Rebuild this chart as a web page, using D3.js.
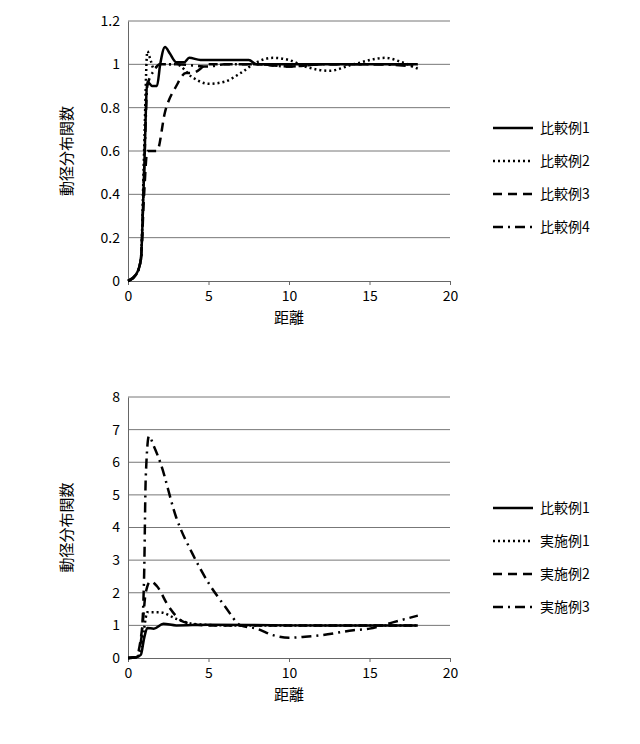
<!DOCTYPE html><html><head><meta charset="utf-8"><script src="https://cdn.jsdelivr.net/npm/d3@7"></script>
<style>body{margin:0;background:#fff}text{font-family:"Noto Sans CJK JP","Liberation Sans",sans-serif}</style></head><body><svg id="c" width="640" height="744"></svg><script>
const topNames=["比較例1","比較例2","比較例3","比較例4"];
const botNames=["比較例1","実施例1","実施例2","実施例3"];
const xTicks=[0,5,10,15,20];
const topYTicks=[0,0.2,0.4,0.6,0.8,1,1.2];
const botYTicks=[0,1,2,3,4,5,6,7,8];
const top1=[[0,0],[0.5,0.03],[0.8,0.1],[1.0,0.5],[1.2,0.92],[1.5,0.9],[1.8,0.9],[2.0,1.0],[2.3,1.08],[2.6,1.05],[3.0,1.01],[3.5,1.01],[3.8,1.03],[4.5,1.02],[6,1.02],[7.5,1.02],[8,1.0],[10,1.0],[12,1.0],[15,1.0],[18,1.0]];
const top2=[[0,0],[0.5,0.03],[0.8,0.1],[1.0,0.6],[1.2,1.06],[1.4,1.02],[1.6,0.98],[2,1.0],[3,1.0],[4,0.94],[5,0.91],[6,0.92],[7,0.96],[8,1.01],[9,1.03],[10,1.02],[11,0.99],[12.5,0.97],[14,1.0],[16,1.03],[17,1.01],[18,0.98]];
const top3=[[0,0],[0.5,0.03],[0.8,0.1],[1.0,0.4],[1.2,0.6],[1.8,0.6],[2.3,0.78],[3,0.9],[3.6,0.96],[4,0.96],[5,1.0],[6,1.0],[8,1.0],[10,0.99],[12,1.0],[15,1.0],[18,1.0]];
const top4=[[0,0],[0.5,0.03],[0.8,0.1],[1.0,0.5],[1.2,0.9],[1.6,0.97],[2,1.0],[3,1.0],[5,0.99],[6,1.0],[8,1.0],[10,0.99],[12,1.0],[15,1.0],[18,0.99]];
const bot1=[[0,0],[0.5,0.02],[0.8,0.1],[1,0.6],[1.2,0.92],[1.6,0.9],[2.2,1.05],[3,1.0],[5,1.02],[10,1.0],[15,1.0],[18,1.0]];
const bot2=[[0,0],[0.5,0.02],[0.8,0.2],[1.0,0.9],[1.2,1.4],[2,1.4],[3,1.2],[4,1.05],[6,1.0],[10,1.0],[18,1.0]];
const bot3=[[0,0],[0.5,0.02],[0.9,1.0],[1.1,2.0],[1.4,2.35],[1.8,2.2],[2.5,1.6],[3.5,1.1],[5,1.0],[10,1.0],[18,1.0]];
const bot4=[[0,0],[0.5,0.02],[0.8,0.5],[1.0,2.5],[1.1,5.5],[1.3,6.8],[1.6,6.5],[2,6.0],[3,4.3],[4,3.2],[5,2.3],[6,1.6],[7,1.0],[8,0.9],[9,0.7],[10,0.62],[11,0.65],[12,0.7],[14,0.85],[15,0.9],[16.5,1.1],[18,1.3]];
const dashes=[null,"2,3","9,6","10,5,2,5"];
const svg=d3.select("#c");
function chart(y0,y1,yMax,yTicks,series,names,legY){
  const x=d3.scaleLinear().domain([0,20]).range([128,450]);
  const y=d3.scaleLinear().domain([0,yMax]).range([y0,y1]);
  const g=svg.append("g");
  g.selectAll(".gl").data(yTicks.filter(t=>t>0)).join("line").attr("x1",128).attr("x2",450).attr("y1",d=>y(d)).attr("y2",d=>y(d)).attr("stroke","#777").attr("stroke-width",1);
  g.append("g").attr("transform",`translate(0,${y0})`).call(d3.axisBottom(x).tickValues(xTicks).tickSize(4).tickFormat(d3.format("d"))).call(a=>{a.select(".domain").attr("stroke","#666");a.selectAll("line").attr("stroke","#666");a.selectAll("text").attr("font-size",14).attr("fill","#000").attr("dy","0.9em");});
  g.append("g").attr("transform","translate(128,0)").call(d3.axisLeft(y).tickValues(yTicks).tickSize(0).tickPadding(8).tickFormat(d=>String(d))).call(a=>{a.select(".domain").attr("stroke","#666");a.selectAll("text").attr("font-size",14).attr("fill","#000");});
  const line=d3.line().x(d=>x(d[0])).y(d=>y(d[1])).curve(d3.curveMonotoneX);
  series.forEach((s,i)=>g.append("path").attr("d",line(s)).attr("fill","none").attr("stroke","#000").attr("stroke-width",i==0?2.5:2.5).attr("stroke-dasharray",dashes[i]));
  g.append("text").attr("transform",`translate(72,${(y0+y1)/2}) rotate(-90)`).attr("text-anchor","middle").attr("font-size",15).text("動径分布関数");
  g.append("text").attr("x",289).attr("y",y0+42).attr("text-anchor","middle").attr("font-size",15).text("距離");
  names.forEach((n,i)=>{const ly=legY+i*33;
    g.append("line").attr("x1",493).attr("x2",533).attr("y1",ly).attr("y2",ly).attr("stroke","#000").attr("stroke-width",2.5).attr("stroke-dasharray",dashes[i]);
    g.append("text").attr("x",540).attr("y",ly+5).attr("font-size",14).text(n);});
}
chart(281,21,1.2,topYTicks,[top1,top2,top3,top4],topNames,128);
chart(658,397,8,botYTicks,[bot1,bot2,bot3,bot4],botNames,508);
</script></body></html>
